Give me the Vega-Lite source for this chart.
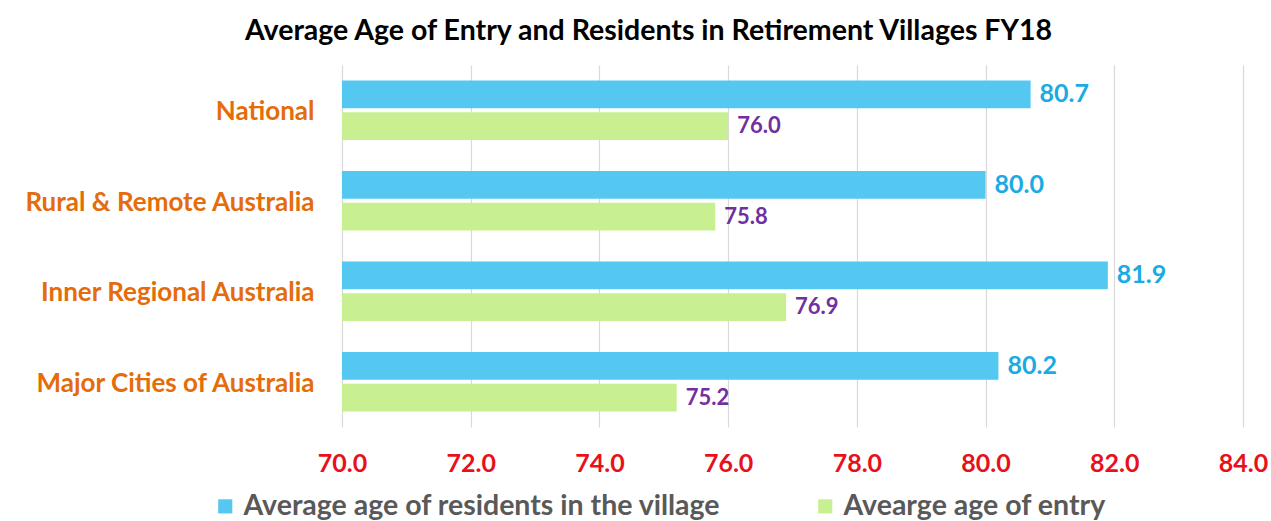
{
  "$schema": "https://vega.github.io/schema/vega-lite/v6.json",
  "width": 901,
  "height": 362,
  "autosize": "none",
  "padding": {"left": 342, "top": 65, "right": 28, "bottom": 94},
  "background": "white",
  "title": {
    "text": "Average Age of Entry and Residents in Retirement Villages FY18",
    "font": "Lato",
    "fontSize": 28.5,
    "fontWeight": "bold",
    "color": "#000000",
    "anchor": "middle",
    "dx": -144,
    "offset": 20
  },
  "config": {
    "view": {"stroke": null},
    "font": "Lato"
  },
  "data": {
    "values": [
      {"region": "National", "series": "Average age of residents in the village", "value": 80.7},
      {"region": "National", "series": "Avearge age of entry", "value": 76.0},
      {"region": "Rural & Remote Australia", "series": "Average age of residents in the village", "value": 80.0},
      {"region": "Rural & Remote Australia", "series": "Avearge age of entry", "value": 75.8},
      {"region": "Inner Regional Australia", "series": "Average age of residents in the village", "value": 81.9},
      {"region": "Inner Regional Australia", "series": "Avearge age of entry", "value": 76.9},
      {"region": "Major Cities of Australia", "series": "Average age of residents in the village", "value": 80.2},
      {"region": "Major Cities of Australia", "series": "Avearge age of entry", "value": 75.2}
    ]
  },
  "encoding": {
    "y": {
      "field": "region",
      "type": "nominal",
      "sort": ["National", "Rural & Remote Australia", "Inner Regional Australia", "Major Cities of Australia"],
      "scale": {"paddingInner": 0.34, "paddingOuter": 0.17},
      "axis": {
        "title": null,
        "domain": false,
        "ticks": false,
        "labelFont": "Lato",
        "labelFontSize": 26,
        "labelFontWeight": "bold",
        "labelColor": "#E46C0A",
        "labelPadding": 28,
        "labelLimit": 400,
        "labelOffset": 2
      }
    },
    "yOffset": {
      "field": "series",
      "type": "nominal",
      "sort": ["Average age of residents in the village", "Avearge age of entry"],
      "scale": {"paddingInner": 0.12, "paddingOuter": 0}
    },
    "x": {
      "field": "value",
      "type": "quantitative",
      "scale": {"domain": [70, 84], "zero": false, "nice": false},
      "axis": {
        "title": null,
        "values": [70, 72, 74, 76, 78, 80, 82, 84],
        "format": ".1f",
        "domain": false,
        "ticks": false,
        "grid": true,
        "gridColor": "#D9D9D9",
        "gridWidth": 1.2,
        "labelFlush": false,
        "labelFont": "Lato",
        "labelFontSize": 25,
        "labelFontWeight": "bold",
        "labelColor": "#E8101A",
        "labelPadding": 24
      }
    }
  },
  "layer": [
    {
      "mark": {"type": "bar"},
      "encoding": {
        "x2": {"datum": 70},
        "color": {
          "field": "series",
          "type": "nominal",
          "sort": ["Average age of residents in the village", "Avearge age of entry"],
          "scale": {
            "domain": ["Average age of residents in the village", "Avearge age of entry"],
            "range": ["#55C8F2", "#C8F090"]
          },
          "legend": {
            "title": null,
            "orient": "none",
            "direction": "horizontal",
            "legendX": -131,
            "legendY": 427,
            "symbolType": "square",
            "symbolSize": 200,
            "symbolStrokeWidth": 0,
            "labelFont": "Lato",
            "labelFontSize": 28.5,
            "labelFontWeight": "bold",
            "labelColor": "#595959",
            "labelLimit": 0,
            "columnPadding": 90,
            "labelOffset": 4
          }
        }
      }
    },
    {
      "mark": {"type": "text", "align": "left", "baseline": "middle", "dx": 9, "fontWeight": "bold", "font": "Lato"},
      "encoding": {
        "text": {"field": "value", "type": "quantitative", "format": ".1f"},
        "size": {
          "condition": {"test": "datum.series === 'Avearge age of entry'", "value": 22},
          "value": 25
        },
        "color": {
          "condition": {"test": "datum.series === 'Avearge age of entry'", "value": "#7030A0"},
          "value": "#19ABE2"
        }
      }
    }
  ]
}
